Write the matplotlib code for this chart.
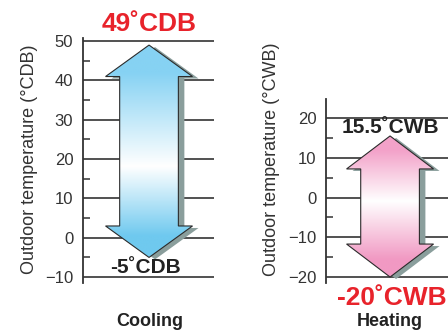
import numpy as np
import matplotlib
matplotlib.use('Agg')
import matplotlib.pyplot as plt
from matplotlib.patches import Polygon
from matplotlib.colors import to_rgb
import matplotlib.transforms as mtransforms

plt.rcParams['font.family'] = ['Liberation Sans', 'DejaVu Sans']

# data
cool_range = [-5, 49]
heat_range = [-20, 15.5]
cool_ticks = [-10, 0, 10, 20, 30, 40, 50]
heat_ticks = [-20, -10, 0, 10, 20]
cool_minor = [-5, 5, 15, 25, 35, 45]
heat_minor = [-15, -5, 5, 15]
cool_labels = ['49˚CDB', '-5˚CDB']
heat_labels = ['15.5˚CWB', '-20˚CWB']
cool_ylabel = 'Outdoor temperature (°CDB)'
heat_ylabel = 'Outdoor temperature (°CWB)'

W, H = 448, 332
fig = plt.figure(figsize=(W/100, H/100), dpi=100)

dark = '#333333'
red = '#e8232b'
shadow = '#8a9e9c'


def arrow_poly(cx, lo, hi, head_w, shaft_w, head_len):
    return np.array([
        [cx, hi],
        [cx + head_w, hi - head_len],
        [cx + shaft_w, hi - head_len],
        [cx + shaft_w, lo + head_len],
        [cx + head_w, lo + head_len],
        [cx, lo],
        [cx - head_w, lo + head_len],
        [cx - shaft_w, lo + head_len],
        [cx - shaft_w, hi - head_len],
        [cx - head_w, hi - head_len],
    ])


def draw_arrow(ax, cx, lo, hi, end_col, mid_col, white_at, head_len):
    pts = arrow_poly(cx, lo, hi, 0.332, 0.224, head_len)
    off = mtransforms.ScaledTranslation(6/100, -2/100, fig.dpi_scale_trans)
    sh = Polygon(pts, closed=True, facecolor=shadow, edgecolor='none',
                 transform=ax.transData + off, zorder=3)
    ax.add_patch(sh)
    # gradient
    ys = np.linspace(lo, hi, 300)
    top_c = np.array(to_rgb(end_col[1]))
    bot_c = np.array(to_rgb(end_col[0]))
    wc = np.array(to_rgb(mid_col))
    cols = []
    for y in ys:
        if y >= white_at:
            t = (y - white_at) / (hi - white_at)
            c = wc + (top_c - wc) * min(1, t * 1.3)
        else:
            t = (white_at - y) / (white_at - lo)
            c = wc + (bot_c - wc) * min(1, t * 1.3)
        cols.append(c)
    img = np.array(cols)[::-1].reshape(-1, 1, 3)
    poly = Polygon(pts, closed=True, facecolor='none', edgecolor='#2b2b2b',
                   linewidth=0.8, zorder=5)
    ax.add_patch(poly)
    im = ax.imshow(img, extent=[cx - 0.34, cx + 0.34, lo, hi], aspect='auto',
                   zorder=4, interpolation='bilinear')
    im.set_clip_path(poly)


def setup(ax, ylim, ticks, minor):
    ax.set_xlim(0, 1)
    ax.set_ylim(*ylim)
    for s in ['top', 'right', 'bottom']:
        ax.spines[s].set_visible(False)
    ax.spines['left'].set_color(dark)
    ax.spines['left'].set_linewidth(1.3)
    ax.set_xticks([])
    ax.set_yticks(ticks)
    ax.set_yticks(minor, minor=True)
    ax.tick_params(axis='y', which='major', length=0, pad=7, labelsize=12,
                   labelcolor=dark)
    ax.tick_params(axis='y', which='minor', direction='in', length=5,
                   width=1.1, color=dark)
    for t in ticks:
        ax.axhline(t, color=dark, linewidth=1.2, zorder=1)
    ax.patch.set_visible(False)


ax1 = fig.add_axes([83/W, 1 - 283/H, 131/W, (283 - 38)/H])
setup(ax1, (-11.5, 50.8), cool_ticks, cool_minor)
draw_arrow(ax1, 0.504, cool_range[0], cool_range[1],
           ('#6fc9ef', '#86d2f3'), '#ffffff', 18, 8)
ax1.annotate(cool_labels[0], (0.504, cool_range[1]), textcoords='offset points',
             xytext=(0, 15), ha='center', va='center', fontsize=19,
             fontweight='bold', color=red, annotation_clip=False)
ax1.annotate(cool_labels[1], (0.48, cool_range[0]), textcoords='offset points',
             xytext=(0, -7.5), ha='center', va='center', fontsize=15,
             fontweight='bold', color='#222222', annotation_clip=False, zorder=6)

ax2 = fig.add_axes([326/W, 1 - 283/H, 131/W, (283 - 99)/H])
setup(ax2, (-21.5, 24.8), heat_ticks, heat_minor)
draw_arrow(ax2, 0.489, heat_range[0], heat_range[1],
           ('#f199c3', '#f3a2c9'), '#ffffff', -1, 8.3)
ax2.annotate(heat_labels[0], (0.489, heat_range[1]), textcoords='offset points',
             xytext=(0, 6), ha='center', va='center', fontsize=15,
             fontweight='bold', color='#222222', annotation_clip=False)
ax2.annotate(heat_labels[1], (0.5, heat_range[0]), textcoords='offset points',
             xytext=(0, -15), ha='center', va='center', fontsize=19,
             fontweight='bold', color=red, annotation_clip=False)

fig.text(30/W, 1 - 159/H, cool_ylabel, rotation=90, ha='center', va='center',
         fontsize=13, color=dark)
fig.text(272/W, 1 - 159/H, heat_ylabel, rotation=90, ha='center', va='center',
         fontsize=13, color=dark)
fig.text(150/W, 1 - 321/H, 'Cooling', ha='center', va='center', fontsize=13,
         fontweight='bold', color='#222222')
fig.text(390/W, 1 - 321/H, 'Heating', ha='center', va='center', fontsize=13,
         fontweight='bold', color='#222222')

plt.savefig('out.png', dpi=100)
